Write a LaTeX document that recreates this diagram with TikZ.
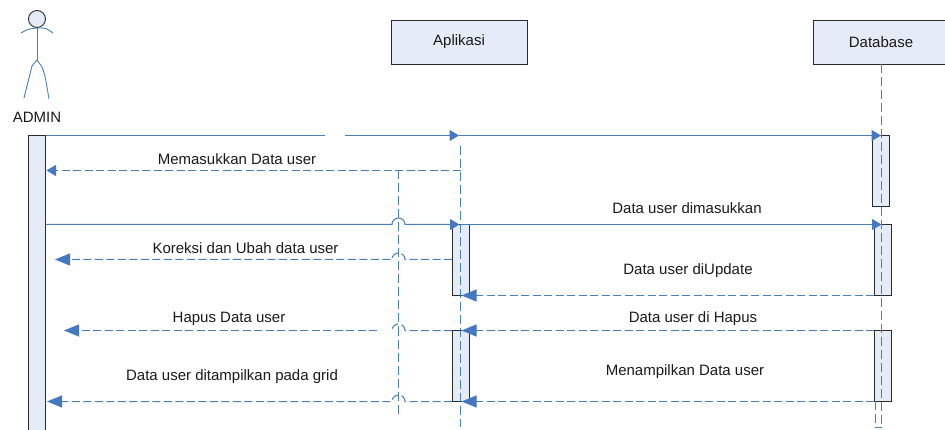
\documentclass[tikz,border=0pt]{standalone}
\usepackage{fontspec}
\setmainfont{Liberation Sans}
\usetikzlibrary{arrows.meta}
\definecolor{lineblue}{HTML}{4A7EBB}
\definecolor{tipblue}{HTML}{4678C1}
\definecolor{boxfill}{HTML}{E6ECF7}
\definecolor{boxline}{HTML}{2B2B2B}

\begin{document}
\begin{tikzpicture}[
  x=1pt,y=-1pt,
  small/.style={-{Triangle[length=9.5pt,width=11pt,fill=tipblue,color=tipblue]}},
  large/.style={-{Triangle[length=15pt,width=12pt,fill=tipblue,color=tipblue]}},
  msg/.style={draw=lineblue,line width=1pt},
  reply/.style={msg,dash pattern=on 8pt off 3.5pt},
  life/.style={draw=lineblue,line width=0.9pt,dash pattern=on 9pt off 4pt},
  stick/.style={draw=lineblue,line width=0.9pt},
  obj/.style={draw=boxline,fill=boxfill,line width=0.9pt,minimum height=44pt,inner sep=0pt,outer sep=0pt},
  bar/.style={draw=boxline,fill=boxfill,line width=1pt,minimum width=17pt,inner sep=0pt,outer sep=0pt},
  lbl/.style={inner sep=0pt,text=black!90,font=\fontsize{15}{18}\selectfont}]

      \useasboundingbox (0,0) rectangle (945,430);

      % actor
      \node [draw=boxline,fill=boxfill,circle,minimum size=17pt,inner sep=0pt,line width=0.9pt] (head) at (37,19) {};
      \coordinate (neck) at (37,28);
      \coordinate (hip) at (37,60);
      \draw[stick] (21,33) .. controls (28,29) .. (neck) .. controls (46,28) .. (53,33);
      \draw[stick] (head) -- (hip);
      \draw[stick] (24,98) -- (32,66) -- (hip) -- (42,67) .. controls (45,75) .. (49,99);
      \node [lbl] (admin) at (37,117) {ADMIN};

      % objects
      \node [obj,minimum width=136pt] (aplikasi) at (459,42) {};
      \node [lbl] (aplikasitxt) at (aplikasi) {Aplikasi};
      \node [obj,minimum width=136pt] (database) at (881.5,42) {};
      \node [lbl] (databasetxt) at (881,42) {Database};

      % activation bars
      \node [bar,minimum height=300pt] (adminbar) at (37,285.5) {};
      \node [bar,minimum height=71pt] (aplbar1) at (460.5,260) {};
      \node [bar,minimum height=71pt] (aplbar2) at (460.5,366) {};
      \node [bar,minimum height=71pt] (dbbar1) at (881.2,171) {};
      \node [bar,minimum height=71pt] (dbbar2) at (882.8,260) {};
      \node [bar,minimum height=71pt] (dbbar3) at (882.8,366) {};

      % lifelines
      \coordinate (apltop) at (460.5,146);
      \coordinate (aplend) at (460.5,427);
      \coordinate (dbend) at (881.5,427);
      \coordinate (dbend2) at (875.5,427);
      \coordinate (dbback) at (875.5,401);
      \coordinate (midtop) at (398.5,170.5);
      \coordinate (midend) at (398.5,417);
      \draw[life] (apltop) -- (aplend);
      \draw[life] (database.south) -- (dbend);
      \draw[life] (dbback) -- (dbend2) -- (dbend);
      \draw[life] (midtop) -- (midend);

      % points on the messages
      \coordinate (gapl) at (325,135.5);
      \coordinate (gapr) at (345,135.5);
      \coordinate (apl1) at (459,135.5);
      \coordinate (db1) at (881,135.5);
      \coordinate (apl2) at (460.5,170.5);
      \coordinate (admin2) at (46.5,170.5);
      \coordinate (hop3) at (398.5,224.5);
      \coordinate (apl3) at (459.5,224.5);
      \coordinate (db3) at (881.5,224.5);
      \coordinate (hop4) at (398.5,259.5);
      \coordinate (admin4) at (55,259.5);
      \coordinate (apl5) at (461.5,295.5);
      \coordinate (db6) at (874,330.5);
      \coordinate (apl6) at (461.5,330.5);
      \coordinate (hop6) at (398.5,330.5);
      \coordinate (gap6) at (377,330.5);
      \coordinate (admin6) at (64,330.5);
      \coordinate (hop7) at (398.5,401.5);
      \coordinate (admin7) at (47,401.5);
      \coordinate (apl7) at (461.5,401.5);

      % messages
      \draw[msg] (adminbar.north east) -- (gapl);
      \draw[msg,small] (gapr) -- (apl1);
      \draw[msg,small] (apl1) -- (db1);
      \draw[reply,small] (apl2) -- (admin2);
      \draw[msg,small] (adminbar.east |- hop3) -- ([xshift=-6.5pt]hop3) arc[start angle=180,end angle=0,radius=6.5pt] -- (apl3);
      \draw[msg,small] (apl3) -- (db3);
      \draw[reply,large] (aplbar1.west |- hop4) -- ([xshift=6.5pt]hop4) arc[start angle=0,end angle=180,radius=6.5pt] -- (admin4);
      \draw[reply,large] (dbbar2.south west) -- (apl5);
      \draw[reply,large] (db6) -- (apl6);
      \draw[reply] (aplbar2.north west) -- ([xshift=6.5pt]hop6) arc[start angle=0,end angle=180,radius=6.5pt];
      \draw[reply,large] (gap6) -- (admin6);
      \draw[reply,large] (dbbar3.south west) -- (apl7);
      \draw[reply,large] (aplbar2.south west) -- ([xshift=6.5pt]hop7) arc[start angle=0,end angle=180,radius=6.5pt] -- (admin7);

      % labels
      \node [lbl] (m1) at (237,159) {Memasukkan Data user};
      \node [lbl] (m2) at (687,208.5) {Data user dimasukkan};
      \node [lbl] (m3) at (245.5,248) {Koreksi dan Ubah data user};
      \node [lbl] (m4) at (688,271) {Data user diUpdate};
      \node [lbl] (m5) at (229,319) {Hapus Data user};
      \node [lbl] (m6) at (693,319) {Data user di Hapus};
      \node [lbl] (m7) at (232,377) {Data user ditampilkan pada grid};
      \node [lbl] (m8) at (685,372) {Menampilkan Data user};

\end{tikzpicture}
\end{document}
